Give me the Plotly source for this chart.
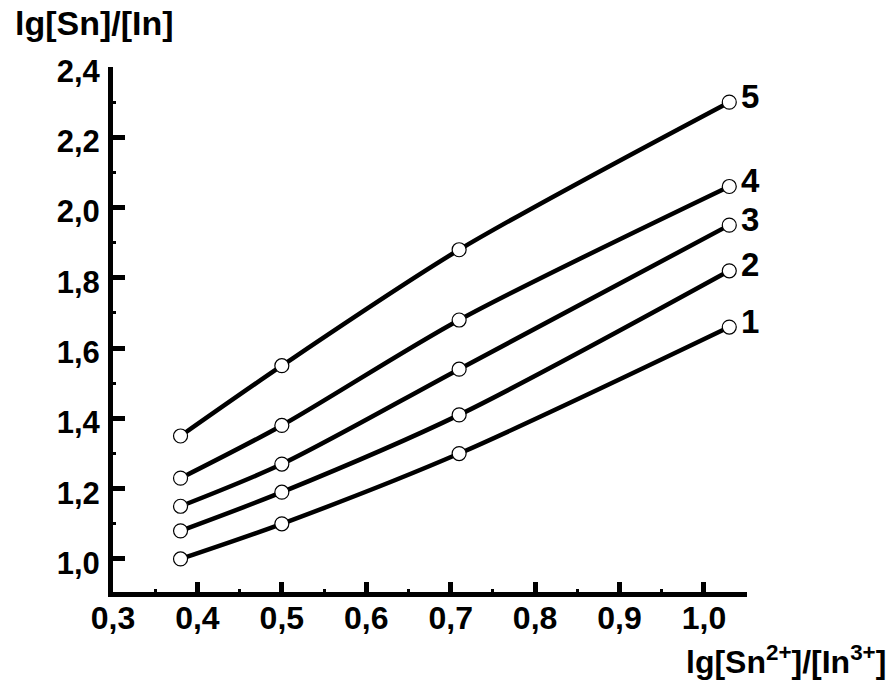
import plotly.graph_objects as go

# lg of the Sn2+/In3+ ratio in the melt
ratio_lg = [0.38, 0.50, 0.71, 1.03]

# lg[Sn]/[In] in the metal, one list per curve
curve_1 = [1.00, 1.10, 1.30, 1.66]
curve_2 = [1.08, 1.19, 1.41, 1.82]
curve_3 = [1.15, 1.27, 1.54, 1.95]
curve_4 = [1.23, 1.38, 1.68, 2.06]
curve_5 = [1.35, 1.55, 1.88, 2.30]

curve_names = ["1", "2", "3", "4", "5"]
curves = [curve_1, curve_2, curve_3, curve_4, curve_5]

x_ticks = [0.3, 0.4, 0.5, 0.6, 0.7, 0.8, 0.9, 1.0]
y_ticks = [1.0, 1.2, 1.4, 1.6, 1.8, 2.0, 2.2, 2.4]
x_minor = [0.35, 0.45, 0.55, 0.65, 0.75, 0.85, 0.95]
y_minor = [1.1, 1.3, 1.5, 1.7, 1.9, 2.1, 2.3]

FONT = "Liberation Sans, Arial, Helvetica, sans-serif"

fig = go.Figure()

for name, ys in zip(curve_names, curves):
    fig.add_trace(go.Scatter(
        x=ratio_lg, y=ys, mode="lines+markers", name=name,
        line=dict(color="black", width=4.5, shape="spline", smoothing=0.8),
        marker=dict(size=14, color="white", line=dict(color="black", width=1.2)),
        showlegend=False, hoverinfo="skip",
    ))
    fig.add_annotation(
        x=ratio_lg[-1], y=ys[-1], text=name, showarrow=False,
        xanchor="left", yanchor="middle", xshift=10, yshift=6,
        font=dict(family=FONT, size=33, color="black", weight="bold"),
    )

axis_common = dict(
    showline=True, linecolor="black", linewidth=5,
    showgrid=False, zeroline=False,
    ticks="inside", tickcolor="black", tickwidth=5,
    tickformat=".1f",
)

fig.update_xaxes(
    range=[0.3, 1.051], tickvals=x_ticks, ticklen=10,
    tickfont=dict(family=FONT, size=32, color="black", weight="bold"),
    minor=dict(tickvals=x_minor, ticks="inside", ticklen=3, tickwidth=3, tickcolor="black"),
    ticklabelstandoff=-6,
    **axis_common,
)
fig.update_yaxes(
    range=[0.906, 2.4], tickvals=y_ticks, ticklen=12,
    tickfont=dict(family=FONT, size=31, color="black", weight="bold"),
    minor=dict(tickvals=y_minor, ticks="inside", ticklen=3, tickwidth=3, tickcolor="black"),
    ticklabelstandoff=2, ticklabelshift=4,
    **axis_common,
)

# axis titles
fig.add_annotation(
    xref="paper", yref="paper", x=-0.158, y=1.083,
    text="lg[Sn]/[In]", showarrow=False, xanchor="left", yanchor="middle",
    font=dict(family=FONT, size=34, color="black", weight="bold"),
)
fig.add_annotation(
    xref="paper", yref="paper", x=1.222, y=-0.13,
    text="lg[Sn<sup>2+</sup>]/[In<sup>3+</sup>]", showarrow=False,
    xanchor="right", yanchor="middle",
    font=dict(family=FONT, size=32, color="black", weight="bold"),
)

fig.update_layout(
    width=891, height=684,
    margin=dict(l=113, r=144, t=67, b=92),
    paper_bgcolor="white", plot_bgcolor="white",
    separators=", ",
)

fig.write_html("out.html")
